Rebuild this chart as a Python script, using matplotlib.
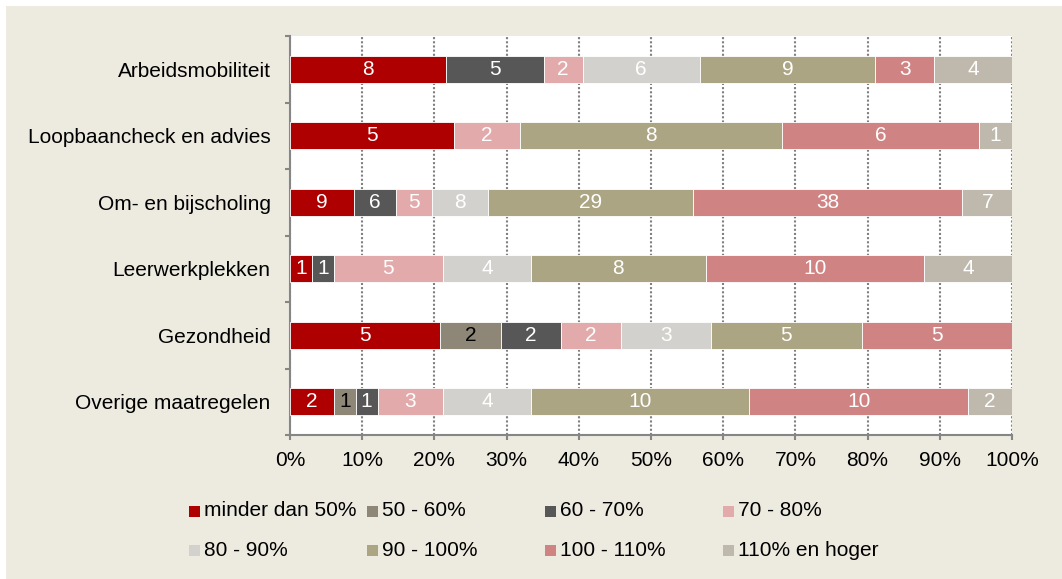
import numpy as np
import matplotlib
matplotlib.use("Agg")
import matplotlib.pyplot as plt
from matplotlib.patches import Rectangle

plt.rcParams["font.family"] = ["Liberation Sans", "DejaVu Sans"]

rows = ["Arbeidsmobiliteit", "Loopbaancheck en advies", "Om- en bijscholing",
        "Leerwerkplekken", "Gezondheid", "Overige maatregelen"]
series = ["minder dan 50%", "50 - 60%", "60 - 70%", "70 - 80%",
          "80 - 90%", "90 - 100%", "100 - 110%", "110% en hoger"]

minder_50 = [8, 5, 9, 1, 5, 2]
p50_60 = [0, 0, 0, 0, 2, 1]
p60_70 = [5, 0, 6, 1, 2, 1]
p70_80 = [2, 2, 5, 5, 2, 3]
p80_90 = [6, 0, 8, 4, 3, 4]
p90_100 = [9, 8, 29, 8, 5, 10]
p100_110 = [3, 6, 38, 10, 5, 10]
p110_plus = [4, 1, 7, 4, 0, 2]

colors = ["#AE0000", "#8E8676", "#575757", "#E2AAAA",
          "#D3D1CD", "#ACA584", "#D08383", "#BEB8AD"]
text_colors = ["white", "black", "white", "white", "white", "white", "white", "white"]

counts = np.array([minder_50, p50_60, p60_70, p70_80, p80_90, p90_100, p100_110, p110_plus])
pct = counts / counts.sum(axis=0) * 100

W, H = 1062, 579
fig = plt.figure(figsize=(W / 100, H / 100), dpi=100, facecolor="white")
fig.patches.append(Rectangle((6 / W, 0), 1, 1 - 6 / H, transform=fig.transFigure,
                             facecolor="#EDEAE0", edgecolor="none", zorder=-10))

ax = fig.add_axes([290 / W, 1 - 435 / H, 722 / W, 399 / H])
y = np.arange(len(rows))
left = np.zeros(len(rows))
for vals, p, c, tc in zip(counts, pct, colors, text_colors):
    bars = ax.barh(y, p, left=left, height=0.4, color=c, edgecolor="white",
                   linewidth=0.6, zorder=3)
    ax.bar_label(bars, labels=[str(v) if v > 0 else "" for v in vals],
                 label_type="center", color=tc, fontsize=15)
    left += p

ax.set_xlim(0, 100)
ax.set_ylim(5.5, -0.5)
ax.set_axisbelow(True)
ax.xaxis.grid(True, linestyle=(0, (1, 1)), color="#808080", linewidth=1.5)

for s in ["top", "right"]:
    ax.spines[s].set_visible(False)
for s in ["left", "bottom"]:
    ax.spines[s].set_color("#868686")
    ax.spines[s].set_linewidth(1.5)

xt = list(range(0, 101, 10))
ax.set_xticks(xt, [f"{v}%" for v in xt])
ax.tick_params(axis="x", direction="out", length=3.6, width=1.5, color="#868686",
               labelsize=15, pad=8)
ax.set_yticks(y, rows)
ax.set_yticks(np.arange(-0.5, len(rows), 1), minor=True)
ax.tick_params(axis="y", which="major", length=0, labelsize=15, pad=14)
ax.tick_params(axis="y", which="minor", direction="out", length=3.6, width=1.5,
               color="#868686")

# legend, four columns by two rows
for i, (name, c) in enumerate(zip(series, colors)):
    col, row = i % 4, i // 4
    px = 189 + 178 * col
    py = 511 + 39 * row
    fig.patches.append(Rectangle((px / W, 1 - (py + 5.5) / H), 11 / W, 11 / H,
                                 transform=fig.transFigure, facecolor=c,
                                 edgecolor="none", zorder=2))
    fig.text((px + 15) / W, 1 - py / H, name, va="center", ha="left", fontsize=15)

fig.savefig("out.png", dpi=100, facecolor=fig.get_facecolor())
